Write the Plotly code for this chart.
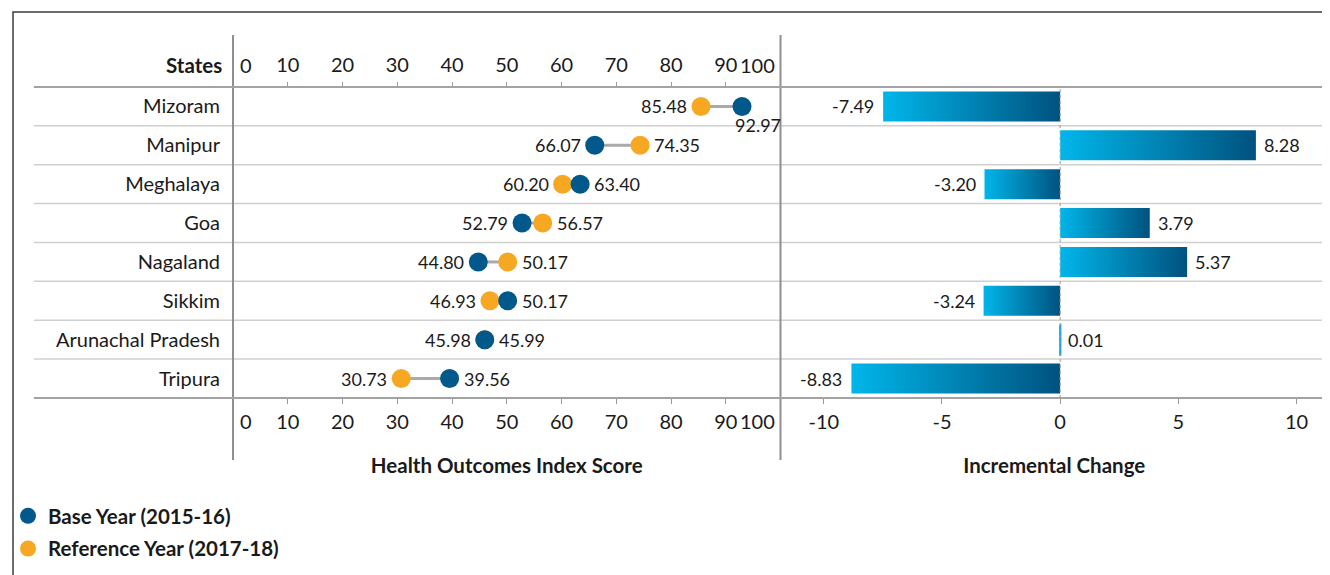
import plotly.graph_objects as go

# ---------------- data ----------------
states = ["Mizoram", "Manipur", "Meghalaya", "Goa", "Nagaland", "Sikkim",
          "Arunachal Pradesh", "Tripura"]
base_year = [92.97, 66.07, 63.40, 52.79, 44.80, 50.17, 45.98, 39.56]
ref_year = [85.48, 74.35, 60.20, 56.57, 50.17, 46.93, 45.99, 30.73]
incremental = [-7.49, 8.28, -3.20, 3.79, 5.37, -3.24, 0.01, -8.83]
score_ticks = [10, 20, 30, 40, 50, 60, 70, 80, 90]
change_ticks = [-10, -5, 0, 5, 10]

# ---------------- styling ----------------
OFF = 8                      # page body margin
W, H = 1330 - OFF, 575 - OFF
FONT = "Lato"
TXT = "#1a1a1a"
BLUE = "#00588b"
ORANGE = "#f7a823"
LIGHT = "#00b6ea"
DARK = "#00527f"


def px(x):
    return (x - OFF) / W


def py(y):
    return 1 - (y - OFF) / H


idx = list(range(len(states)))
left_dom = [px(228), px(778)]
right_dom = [px(778), px(1328)]
y_dom = [py(398), py(87)]
y_range = [len(states) - 0.5, -0.5]

fig = go.Figure()

# connector lines
cx, cy = [], []
for i, (b, r) in enumerate(zip(base_year, ref_year)):
    cx += [b, r, None]
    cy += [i, i, None]
fig.add_trace(go.Scatter(x=cx, y=cy, mode="lines", line=dict(color="#aaaaaa", width=3),
                         hoverinfo="skip", showlegend=False, xaxis="x", yaxis="y"))

fig.add_trace(go.Scatter(x=ref_year, y=idx, mode="markers", name="Reference Year (2017-18)",
                         marker=dict(color=ORANGE, size=19), legendrank=2,
                         legendgroup="r", xaxis="x", yaxis="y"))
fig.add_trace(go.Scatter(x=base_year, y=idx, mode="markers", name="Base Year (2015-16)",
                         marker=dict(color=BLUE, size=19), legendrank=1,
                         legendgroup="b", xaxis="x", yaxis="y"))

# invisible trace for the top axis
fig.add_trace(go.Scatter(x=[0, 100], y=[0, 0], mode="markers", marker=dict(opacity=0),
                         hoverinfo="skip", showlegend=False, xaxis="x3", yaxis="y"))

# gradient bars
for i, v in enumerate(incremental):
    h = 0.385
    lo, hi = min(0, v), max(0, v)
    thin = abs(v) < 0.1
    fig.add_trace(go.Scatter(
        x=[0, v, v, 0, 0], y=[i - h, i - h, i + h, i + h, i - h],
        mode="lines", fill="toself",
        line=dict(width=2 if thin else 0, color="#0aa6dc"),
        fillgradient=dict(type="horizontal", start=lo, stop=hi,
                          colorscale=[[0, LIGHT], [1, DARK]]),
        hoverinfo="skip", showlegend=False, xaxis="x2", yaxis="y2"))

VAL = dict(size=18, color=TXT, family=FONT)
TICK = dict(size=20, color=TXT, family=FONT)
BOLD = dict(size=20.5, color=TXT, family=FONT)

annotations = []
# dumbbell value labels
for i, (b, r) in enumerate(zip(base_year, ref_year)):
    lo, hi = min(b, r), max(b, r)
    annotations.append(dict(x=lo, y=i, xref="x", yref="y", text=f"{lo:.2f}", showarrow=False,
                            xanchor="right", xshift=-12, font=VAL))
    if hi > 90:
        annotations.append(dict(x=hi, y=i, xref="x", yref="y", text=f"{hi:.2f}", showarrow=False,
                                xanchor="center", xshift=16, yshift=-19, font=VAL))
    else:
        annotations.append(dict(x=hi, y=i, xref="x", yref="y", text=f"{hi:.2f}", showarrow=False,
                                xanchor="left", xshift=12, font=VAL))

# bar value labels
for i, v in enumerate(incremental):
    annotations.append(dict(x=v, y=i, xref="x2", yref="y2", text=f"{v:.2f}", showarrow=False,
                            xanchor="right" if v < 0 else "left", xshift=-7 if v < 0 else 6,
                            font=VAL))

# edge tick labels 0 / 100 (top and bottom)
for yy in (65, 421):
    annotations.append(dict(x=0, y=py(yy), xref="x", yref="paper", text="0", showarrow=False,
                            xanchor="center", yanchor="middle", xshift=13, font=TICK))
    annotations.append(dict(x=100, y=py(yy), xref="x", yref="paper", text="100", showarrow=False,
                            xanchor="center", yanchor="middle", xshift=-23, font=TICK))

annotations.append(dict(x=px(219), y=py(65), xref="paper", yref="paper", text="<b>States</b>",
                        showarrow=False, xanchor="right", yanchor="middle", font=BOLD))

shapes = []
# outer frame
shapes.append(dict(type="rect", xref="paper", yref="paper", x0=px(7), x1=1.05, y0=-0.05, y1=py(12),
                   line=dict(color="#3c3c3c", width=1.5), layer="below"))
# vertical dividers
for xx in (228, 778, 1328):
    shapes.append(dict(type="line", xref="paper", yref="paper", x0=px(xx), x1=px(xx),
                       y0=py(460), y1=py(35), line=dict(color="#8f8f8f", width=2)))
# header / bottom lines
for yy in (87, 398):
    shapes.append(dict(type="line", xref="paper", yref="paper", x0=px(28), x1=px(1328),
                       y0=py(yy), y1=py(yy), line=dict(color="#a3a3a3", width=2)))
# row separators
for i in range(len(states) - 1):
    shapes.append(dict(type="line", xref="paper", yref="y", x0=px(28), x1=px(1328),
                       y0=i + 0.5, y1=i + 0.5, line=dict(color="#d0d0d0", width=1.5), layer="below"))
# zero line
shapes.append(dict(type="line", xref="x2", yref="paper", x0=0, x1=0, y0=y_dom[0], y1=y_dom[1],
                   line=dict(color="#9a9a9a", width=1, dash="dot")))

fig.update_layout(
    width=W, height=H,
    margin=dict(l=0, r=0, t=0, b=0),
    paper_bgcolor="white", plot_bgcolor="rgba(0,0,0,0)",
    font=dict(family=FONT, color=TXT),
    xaxis=dict(domain=left_dom, range=[0, 100], tickvals=score_ticks, ticks="outside", ticklen=5,
               tickcolor="#999999", tickwidth=1, showgrid=False, zeroline=False, showline=False,
               tickfont=TICK, anchor="y", ticklabelstandoff=1,
               title=dict(text="<b>Health Outcomes Index Score</b>", font=BOLD, standoff=26)),
    xaxis3=dict(range=[0, 100], tickvals=score_ticks, ticks="outside", ticklen=4, side="top",
                overlaying="x", anchor="y", tickcolor="#999999", showgrid=False, zeroline=False,
                showline=False, tickfont=TICK, ticklabelstandoff=2),
    yaxis=dict(domain=y_dom, range=y_range, tickvals=idx, ticktext=states, ticks="",
               showgrid=False, zeroline=False, showline=False, tickfont=TICK, anchor="x",
               ticklabelstandoff=12),
    xaxis2=dict(domain=right_dom, range=[-11.83, 11.33], tickvals=change_ticks,
                ticktext=[str(t) for t in change_ticks], ticks="outside",
                ticklen=5, tickcolor="#999999", showgrid=False, zeroline=False, showline=False,
                tickfont=TICK, anchor="y2", ticklabelstandoff=1,
                title=dict(text="<b>Incremental Change</b>", font=BOLD, standoff=26)),
    yaxis2=dict(domain=y_dom, range=y_range, showticklabels=False, ticks="", showgrid=False,
                zeroline=False, showline=False, anchor="x2"),
    legend=dict(x=px(2), y=py(496), xanchor="left", yanchor="top", bgcolor="rgba(0,0,0,0)",
                font=dict(size=20.5, color=TXT, family=FONT, weight="bold"),
                tracegroupgap=3, itemsizing="trace", itemwidth=30),
    showlegend=True,
    annotations=annotations,
    shapes=shapes,
)

fig.write_html("out.html")
